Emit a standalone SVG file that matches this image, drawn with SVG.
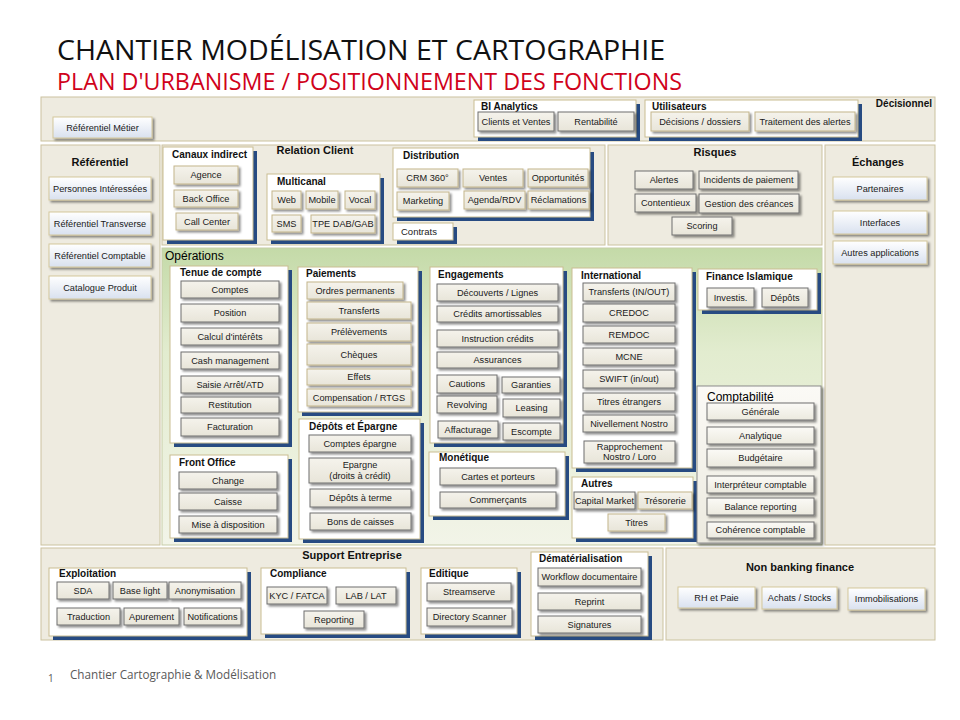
<svg xmlns="http://www.w3.org/2000/svg" width="960" height="720" viewBox="0 0 960 720">
<defs>
<linearGradient id="gb" x1="0" y1="0" x2="0" y2="1"><stop offset="0" stop-color="#F5F3EC"/><stop offset="1" stop-color="#E8E5D9"/></linearGradient>
<linearGradient id="gc" x1="0" y1="0" x2="0" y2="1"><stop offset="0" stop-color="#FBFAF6"/><stop offset="1" stop-color="#ECEADF"/></linearGradient>
<linearGradient id="gbl" x1="0" y1="0" x2="0" y2="1"><stop offset="0" stop-color="#FFFFFF"/><stop offset="1" stop-color="#D9E1EF"/></linearGradient>
<linearGradient id="gops" x1="0" y1="0" x2="0" y2="1"><stop offset="0" stop-color="#C4DAA8"/><stop offset="0.35" stop-color="#E2ECCF"/><stop offset="1" stop-color="#F2F4E8"/></linearGradient>
<filter id="sh" x="-10%" y="-20%" width="130%" height="160%"><feDropShadow dx="2" dy="2" stdDeviation="1" flood-color="#000" flood-opacity="0.45"/></filter>
</defs>
<style>
.band{fill:#EEEBE0;stroke:#CBC29F;stroke-width:1}
.ops{fill:url(#gops);stroke:#C7CDA8;stroke-width:1}
.pn{fill:#FFFFFF;stroke:#C9BD92;stroke-width:1}
.ps{fill:#274B82}
.cp{fill:url(#gc);stroke:#8C8C8C;stroke-width:1;filter:url(#sh)}
.bt{fill:url(#gb);stroke:#C3B58B;stroke-width:1;filter:url(#sh)}
.bg{fill:url(#gb);stroke:#6F6F6F;stroke-width:1;filter:url(#sh)}
.bc{fill:url(#gc);stroke:#6F6F6F;stroke-width:1;filter:url(#sh)}
.bb{fill:url(#gbl);stroke:#D3C79C;stroke-width:1;filter:url(#sh)}
.t{font-family:"Liberation Sans",Arial,sans-serif;font-size:9.2px;fill:#1A1A1A;text-anchor:middle}
.tl{font-family:"Liberation Sans",Arial,sans-serif;font-size:9.5px;fill:#1A1A1A}
.h{font-family:"Liberation Sans",Arial,sans-serif;font-size:10px;font-weight:bold;fill:#111}
.H{font-family:"Liberation Sans",Arial,sans-serif;font-size:11px;font-weight:bold;fill:#111;text-anchor:middle}
.big{font-family:"Liberation Sans",Arial,sans-serif;font-size:12px;fill:#000}
</style>
<rect x="0" y="0" width="960" height="720" fill="#FFFFFF"/>
<g id="title">
<text x="57" y="60" font-family="Open Sans, Liberation Sans, sans-serif" font-size="27" fill="#111" textLength="608" lengthAdjust="spacingAndGlyphs">CHANTIER MODÉLISATION ET CARTOGRAPHIE</text>
<text x="57" y="90" font-family="Open Sans, Liberation Sans, sans-serif" font-size="23" fill="#D0021B" textLength="625" lengthAdjust="spacingAndGlyphs">PLAN D'URBANISME / POSITIONNEMENT DES FONCTIONS</text>
</g>

<!-- Décisionnel -->
<g id="decisionnel"><rect class="band" x="41" y="97" width="894" height="44"/><text class="h" x="932" y="107" text-anchor="end" font-size="12">Décisionnel</text></g>
<g id="ref-metier"><rect class="bb" x="53" y="117" width="99" height="21"/><text class="t" x="102.5" y="130.5">Référentiel Métier</text></g>
<g id="bi-analytics"><rect class="ps" x="478" y="104" width="162" height="37"/><rect class="pn" x="474" y="100" width="162" height="37"/><text class="h" x="481" y="110">BI Analytics</text></g>
<g id="clients-ventes"><rect class="bg" x="478" y="112" width="76" height="19"/><text class="t" x="516" y="124.5">Clients et Ventes</text></g>
<g id="rentabilite"><rect class="bg" x="558" y="112" width="76" height="19"/><text class="t" x="596" y="124.5">Rentabilité</text></g>
<g id="utilisateurs"><rect class="ps" x="649" y="104" width="213" height="37"/><rect class="pn" x="645" y="100" width="213" height="37"/><text class="h" x="652" y="110">Utilisateurs</text></g>
<g id="decisions-dossiers"><rect class="bt" x="651" y="112" width="98" height="19"/><text class="t" x="700" y="124.5">Décisions / dossiers</text></g>
<g id="traitement-alertes"><rect class="bt" x="755" y="112" width="100" height="19"/><text class="t" x="805" y="124.5">Traitement des alertes</text></g>

<!-- Référentiel -->
<g id="referentiel"><rect class="band" x="41" y="145" width="119" height="400"/><text class="H" x="100" y="166">Référentiel</text></g>
<g id="personnes"><rect class="bb" x="49" y="177" width="102" height="23"/><text class="t" x="100" y="191.5">Personnes Intéressées</text></g>
<g id="ref-transverse"><rect class="bb" x="49" y="212" width="102" height="23"/><text class="t" x="100" y="226.5">Référentiel Transverse</text></g>
<g id="ref-comptable"><rect class="bb" x="49" y="244" width="102" height="23"/><text class="t" x="100" y="258.5">Référentiel Comptable</text></g>
<g id="catalogue"><rect class="bb" x="49" y="276" width="102" height="23"/><text class="t" x="100" y="290.5">Catalogue Produit</text></g>

<!-- Relation Client -->
<g id="relation-client"><rect class="band" x="162" y="145" width="443" height="100"/><text class="H" x="315" y="154">Relation Client</text></g>
<g id="canaux-indirect"><rect class="ps" x="167" y="151" width="90" height="93"/><rect class="pn" x="163" y="147" width="90" height="93"/><text class="h" x="172" y="158">Canaux indirect</text></g>
<g id="agence"><rect class="bt" x="174" y="166" width="64" height="18"/><text class="t" x="206" y="178">Agence</text></g>
<g id="back-office"><rect class="bt" x="174" y="190" width="64" height="17"/><text class="t" x="206" y="201.5">Back Office</text></g>
<g id="call-center"><rect class="bt" x="176" y="213" width="62" height="17"/><text class="t" x="207" y="224.5">Call Center</text></g>
<g id="multicanal"><rect class="ps" x="271" y="178" width="113" height="66"/><rect class="pn" x="267" y="174" width="113" height="66"/><text class="h" x="277" y="185">Multicanal</text></g>
<g id="web"><rect class="bt" x="272" y="191" width="29" height="18"/><text class="t" x="286.5" y="203">Web</text></g>
<g id="mobile"><rect class="bt" x="306" y="191" width="32" height="18"/><text class="t" x="322" y="203">Mobile</text></g>
<g id="vocal"><rect class="bt" x="345" y="191" width="30" height="18"/><text class="t" x="360" y="203">Vocal</text></g>
<g id="sms"><rect class="bt" x="272" y="215" width="29" height="17"/><text class="t" x="286.5" y="226.5">SMS</text></g>
<g id="tpe"><rect class="bt" x="311" y="215" width="64" height="18"/><text class="t" x="343" y="227">TPE  DAB/GAB</text></g>
<g id="distribution"><rect class="ps" x="397" y="152" width="197" height="69"/><rect class="pn" x="393" y="148" width="197" height="69"/><text class="h" x="403" y="159">Distribution</text></g>
<g id="crm"><rect class="bt" x="397" y="169" width="61" height="18"/><text class="t" x="427.5" y="181">CRM 360°</text></g>
<g id="ventes"><rect class="bt" x="463" y="169" width="60" height="18"/><text class="t" x="493" y="181">Ventes</text></g>
<g id="opportunites"><rect class="bt" x="528" y="169" width="60" height="18"/><text class="t" x="558" y="181">Opportunités</text></g>
<g id="marketing"><rect class="bt" x="397" y="192" width="52" height="18"/><text class="t" x="423" y="204">Marketing</text></g>
<g id="agenda"><rect class="bt" x="464" y="191" width="61" height="18"/><text class="t" x="494.5" y="203">Agenda/RDV</text></g>
<g id="reclamations"><rect class="bt" x="528" y="191" width="61" height="18"/><text class="t" x="558.5" y="203">Réclamations</text></g>
<g id="contrats"><rect class="ps" x="397" y="227" width="60" height="17"/><rect class="pn" x="393" y="223" width="60" height="17"/><text class="tl" x="401" y="235">Contrats</text></g>

<!-- Risques -->
<g id="risques"><rect class="band" x="608" y="145" width="214" height="100"/><text class="H" x="715" y="156">Risques</text></g>
<g id="alertes"><rect class="bg" x="635" y="171" width="58" height="18"/><text class="t" x="664" y="183">Alertes</text></g>
<g id="incidents"><rect class="bg" x="699" y="171" width="99" height="18"/><text class="t" x="748.5" y="183">Incidents de paiement</text></g>
<g id="contentieux"><rect class="bg" x="635" y="194" width="61" height="18"/><text class="t" x="665.5" y="206">Contentieux</text></g>
<g id="gestion-creances"><rect class="bg" x="699" y="194" width="100" height="19"/><text class="t" x="749" y="206.5">Gestion des créances</text></g>
<g id="scoring"><rect class="bg" x="672" y="217" width="60" height="18"/><text class="t" x="702" y="229">Scoring</text></g>

<!-- Échanges -->
<g id="echanges"><rect class="band" x="825" y="145" width="110" height="400"/><text class="H" x="878" y="166">Échanges</text></g>
<g id="partenaires"><rect class="bb" x="833" y="177" width="94" height="23"/><text class="t" x="880" y="191.5">Partenaires</text></g>
<g id="interfaces"><rect class="bb" x="833" y="211" width="94" height="23"/><text class="t" x="880" y="225.5">Interfaces</text></g>
<g id="autres-applications"><rect class="bb" x="833" y="241" width="94" height="23"/><text class="t" x="880" y="255.5">Autres applications</text></g>

<!-- Opérations -->
<g id="operations"><rect class="ops" x="162" y="248" width="660" height="297"/><text class="big" x="165" y="260">Opérations</text></g>
<g id="tenue-compte"><rect class="ps" x="174" y="270" width="118" height="177"/><rect class="pn" x="170" y="266" width="118" height="177"/><text class="h" x="180" y="275.5">Tenue de compte</text></g>
<g id="comptes"><rect class="bg" x="181" y="281" width="98" height="17"/><text class="t" x="230" y="292.5">Comptes</text></g>
<g id="position"><rect class="bg" x="181" y="304" width="98" height="18"/><text class="t" x="230" y="316">Position</text></g>
<g id="calcul-interets"><rect class="bg" x="181" y="328" width="98" height="17"/><text class="t" x="230" y="339.5">Calcul d'intérêts</text></g>
<g id="cash-management"><rect class="bg" x="181" y="352" width="98" height="17"/><text class="t" x="230" y="363.5">Cash management</text></g>
<g id="saisie-arret"><rect class="bg" x="181" y="376" width="98" height="17"/><text class="t" x="230" y="387.5">Saisie Arrêt/ATD</text></g>
<g id="restitution"><rect class="bg" x="181" y="397" width="98" height="16"/><text class="t" x="230" y="408">Restitution</text></g>
<g id="facturation"><rect class="bg" x="181" y="418" width="98" height="18"/><text class="t" x="230" y="430">Facturation</text></g>

<g id="front-office"><rect class="ps" x="174" y="459" width="118" height="83"/><rect class="pn" x="170" y="455" width="118" height="83"/><text class="h" x="179" y="466">Front Office</text></g>
<g id="change"><rect class="bg" x="179" y="472" width="98" height="17"/><text class="t" x="228" y="483.5">Change</text></g>
<g id="caisse"><rect class="bg" x="179" y="493" width="98" height="17"/><text class="t" x="228" y="504.5">Caisse</text></g>
<g id="mise-disposition"><rect class="bg" x="179" y="516" width="98" height="17"/><text class="t" x="228" y="527.5">Mise à disposition</text></g>

<g id="paiements"><rect class="ps" x="302" y="271" width="120" height="145"/><rect class="pn" x="298" y="267" width="120" height="145"/><text class="h" x="306" y="277">Paiements</text></g>
<g id="ordres-permanents"><rect class="bt" x="307" y="282" width="96" height="17"/><text class="t" x="355" y="293.5">Ordres permanents</text></g>
<g id="transferts"><rect class="bt" x="307" y="302" width="104" height="17"/><text class="t" x="359" y="313.5">Transferts</text></g>
<g id="prelevements"><rect class="bt" x="307" y="323" width="104" height="18"/><text class="t" x="359" y="335">Prélèvements</text></g>
<g id="cheques"><rect class="bt" x="307" y="344" width="104" height="21"/><text class="t" x="359" y="357.5">Chèques</text></g>
<g id="effets"><rect class="bt" x="307" y="369" width="104" height="16"/><text class="t" x="359" y="380">Effets</text></g>
<g id="compensation"><rect class="bt" x="307" y="389" width="104" height="17"/><text class="t" x="359" y="400.5">Compensation / RTGS</text></g>

<g id="depots-epargne"><rect class="ps" x="303" y="423" width="121" height="120"/><rect class="pn" x="299" y="419" width="121" height="120"/><text class="h" x="309" y="430">Dépôts et Épargne</text></g>
<g id="comptes-epargne"><rect class="bg" x="309" y="435" width="102" height="17"/><text class="t" x="360" y="446.5">Comptes épargne</text></g>
<g id="epargne-droits"><rect class="bg" x="309" y="458" width="102" height="25"/><text class="t" x="360" y="468">Epargne</text><text class="t" x="360" y="479">(droits à crédit)</text></g>
<g id="depots-terme"><rect class="bg" x="310" y="489" width="101" height="18"/><text class="t" x="360.5" y="501">Dépôts à terme</text></g>
<g id="bons-caisses"><rect class="bg" x="310" y="513" width="101" height="17"/><text class="t" x="360.5" y="524.5">Bons de caisses</text></g>

<g id="engagements"><rect class="ps" x="434" y="271" width="133" height="176"/><rect class="pn" x="430" y="267" width="133" height="176"/><text class="h" x="438" y="278">Engagements</text></g>
<g id="decouverts"><rect class="bg" x="437" y="284" width="121" height="17"/><text class="t" x="497.5" y="295.5">Découverts / Lignes</text></g>
<g id="credits-amortissables"><rect class="bg" x="437" y="306" width="121" height="16"/><text class="t" x="497.5" y="317">Crédits amortissables</text></g>
<g id="instruction-credits"><rect class="bg" x="437" y="330" width="121" height="17"/><text class="t" x="497.5" y="341.5">Instruction crédits</text></g>
<g id="assurances"><rect class="bg" x="437" y="352" width="121" height="16"/><text class="t" x="497.5" y="363">Assurances</text></g>
<g id="cautions"><rect class="bg" x="437" y="375" width="60" height="18"/><text class="t" x="467" y="387">Cautions</text></g>
<g id="garanties"><rect class="bg" x="502" y="377" width="58" height="16"/><text class="t" x="531" y="388">Garanties</text></g>
<g id="revolving"><rect class="bg" x="437" y="396" width="60" height="17"/><text class="t" x="467" y="407.5">Revolving</text></g>
<g id="leasing"><rect class="bg" x="503" y="399" width="57" height="18"/><text class="t" x="531.5" y="411">Leasing</text></g>
<g id="affacturage"><rect class="bg" x="438" y="421" width="60" height="17"/><text class="t" x="468" y="432.5">Affacturage</text></g>
<g id="escompte"><rect class="bg" x="503" y="423" width="57" height="17"/><text class="t" x="531.5" y="434.5">Escompte</text></g>

<g id="monetique"><rect class="ps" x="433" y="456" width="136" height="64"/><rect class="pn" x="429" y="452" width="136" height="64"/><text class="h" x="439" y="461">Monétique</text></g>
<g id="cartes-porteurs"><rect class="bg" x="440" y="468" width="116" height="17"/><text class="t" x="498" y="479.5">Cartes et porteurs</text></g>
<g id="commercants"><rect class="bg" x="440" y="492" width="116" height="16"/><text class="t" x="498" y="503">Commerçants</text></g>

<g id="international"><rect class="ps" x="576" y="272" width="120" height="200"/><rect class="pn" x="572" y="268" width="120" height="200"/><text class="h" x="581" y="279">International</text></g>
<g id="transferts-inout"><rect class="bg" x="583" y="283" width="92" height="18"/><text class="t" x="629" y="295">Transferts (IN/OUT)</text></g>
<g id="credoc"><rect class="bg" x="583" y="304" width="92" height="18"/><text class="t" x="629" y="316">CREDOC</text></g>
<g id="remdoc"><rect class="bg" x="583" y="326" width="92" height="17"/><text class="t" x="629" y="337.5">REMDOC</text></g>
<g id="mcne"><rect class="bg" x="583" y="348" width="92" height="17"/><text class="t" x="629" y="359.5">MCNE</text></g>
<g id="swift"><rect class="bg" x="583" y="370" width="92" height="18"/><text class="t" x="629" y="382">SWIFT (in/out)</text></g>
<g id="titres-etrangers"><rect class="bg" x="583" y="393" width="92" height="18"/><text class="t" x="629" y="405">Titres étrangers</text></g>
<g id="nivellement"><rect class="bg" x="583" y="415" width="92" height="17"/><text class="t" x="629" y="426.5">Nivellement Nostro</text></g>
<g id="rapprochement"><rect class="bg" x="584" y="441" width="91" height="22"/><text class="t" x="629.5" y="450">Rapprochement</text><text class="t" x="629.5" y="460">Nostro / Loro</text></g>

<g id="autres"><rect class="ps" x="576" y="481" width="121" height="61"/><rect class="pn" x="572" y="477" width="121" height="61"/><text class="h" x="581" y="487">Autres</text></g>
<g id="capital-market"><rect class="bg" x="574" y="492" width="61" height="17"/><text class="t" x="604.5" y="503.5">Capital Market</text></g>
<g id="tresorerie"><rect class="bt" x="638" y="492" width="54" height="17"/><text class="t" x="665" y="503.5">Trésorerie</text></g>
<g id="titres"><rect class="bt" x="608" y="514" width="57" height="17"/><text class="t" x="636.5" y="525.5">Titres</text></g>

<g id="finance-islamique"><rect class="ps" x="702" y="273" width="119" height="41"/><rect class="pn" x="698" y="269" width="119" height="41"/><text class="h" x="706" y="280">Finance Islamique</text></g>
<g id="investis"><rect class="bg" x="707" y="288" width="47" height="19"/><text class="t" x="730.5" y="300.5">Investis.</text></g>
<g id="depots-fi"><rect class="bg" x="762" y="288" width="46" height="19"/><text class="t" x="785" y="300.5">Dépôts</text></g>

<g id="comptabilite"><rect class="cp" x="697" y="386" width="124" height="157"/><text class="big" x="707" y="401">Comptabilité</text></g>
<g id="generale"><rect class="bc" x="707" y="403" width="107" height="17"/><text class="t" x="760.5" y="414.5">Générale</text></g>
<g id="analytique"><rect class="bc" x="707" y="427" width="107" height="17"/><text class="t" x="760.5" y="438.5">Analytique</text></g>
<g id="budgetaire"><rect class="bc" x="707" y="449" width="107" height="18"/><text class="t" x="760.5" y="461">Budgétaire</text></g>
<g id="interpreteur"><rect class="bc" x="707" y="476" width="107" height="17"/><text class="t" x="760.5" y="487.5">Interpréteur comptable</text></g>
<g id="balance-reporting"><rect class="bc" x="707" y="498" width="107" height="17"/><text class="t" x="760.5" y="509.5">Balance reporting</text></g>
<g id="coherence"><rect class="bc" x="707" y="522" width="107" height="16"/><text class="t" x="760.5" y="533">Cohérence comptable</text></g>

<!-- Support Entreprise -->
<g id="support-entreprise"><rect class="band" x="41" y="548" width="622" height="92"/><text class="H" x="352" y="559">Support Entreprise</text></g>
<g id="exploitation"><rect class="ps" x="53" y="572" width="198" height="68"/><rect class="pn" x="49" y="568" width="198" height="68"/><text class="h" x="59" y="577">Exploitation</text></g>
<g id="sda"><rect class="bg" x="57" y="582" width="52" height="17"/><text class="t" x="83" y="593.5">SDA</text></g>
<g id="base-light"><rect class="bg" x="113" y="582" width="54" height="17"/><text class="t" x="140" y="593.5">Base light</text></g>
<g id="anonymisation"><rect class="bg" x="169" y="582" width="72" height="17"/><text class="t" x="205" y="593.5">Anonymisation</text></g>
<g id="traduction"><rect class="bg" x="57" y="608" width="63" height="17"/><text class="t" x="88.5" y="619.5">Traduction</text></g>
<g id="apurement"><rect class="bg" x="124" y="608" width="55" height="17"/><text class="t" x="151.5" y="619.5">Apurement</text></g>
<g id="notifications"><rect class="bg" x="184" y="608" width="57" height="17"/><text class="t" x="212.5" y="619.5">Notifications</text></g>

<g id="compliance"><rect class="ps" x="265" y="572" width="145" height="66"/><rect class="pn" x="261" y="568" width="145" height="66"/><text class="h" x="270" y="577">Compliance</text></g>
<g id="kyc"><rect class="bg" x="267" y="587" width="60" height="17"/><text class="t" x="297" y="598.5">KYC / FATCA</text></g>
<g id="lab"><rect class="bg" x="336" y="587" width="60" height="17"/><text class="t" x="366" y="598.5">LAB / LAT</text></g>
<g id="reporting"><rect class="bg" x="304" y="611" width="60" height="17"/><text class="t" x="334" y="622.5">Reporting</text></g>

<g id="editique"><rect class="ps" x="425" y="572" width="96" height="66"/><rect class="pn" x="421" y="568" width="96" height="66"/><text class="h" x="429" y="577">Editique</text></g>
<g id="streamserve"><rect class="bg" x="427" y="583" width="84" height="18"/><text class="t" x="469" y="595">Streamserve</text></g>
<g id="directory-scanner"><rect class="bg" x="427" y="608" width="85" height="18"/><text class="t" x="469.5" y="620">Directory Scanner</text></g>

<g id="dematerialisation"><rect class="ps" x="535" y="556" width="117" height="84"/><rect class="pn" x="531" y="552" width="117" height="84"/><text class="h" x="539" y="562">Dématérialisation</text></g>
<g id="workflow"><rect class="bg" x="538" y="568" width="103" height="18"/><text class="t" x="589.5" y="580">Workflow documentaire</text></g>
<g id="reprint"><rect class="bg" x="538" y="593" width="103" height="17"/><text class="t" x="589.5" y="604.5">Reprint</text></g>
<g id="signatures"><rect class="bg" x="538" y="616" width="103" height="17"/><text class="t" x="589.5" y="627.5">Signatures</text></g>

<!-- Non banking finance -->
<g id="non-banking"><rect class="band" x="666" y="548" width="269" height="92"/><text class="H" x="800" y="571">Non banking finance</text></g>
<g id="rh-paie"><rect class="bb" x="678" y="587" width="77" height="21"/><text class="t" x="716.5" y="600.5">RH et Paie</text></g>
<g id="achats-stocks"><rect class="bb" x="762" y="587" width="75" height="22"/><text class="t" x="799.5" y="601">Achats / Stocks</text></g>
<g id="immobilisations"><rect class="bb" x="848" y="588" width="77" height="22"/><text class="t" x="886.5" y="602">Immobilisations</text></g>

<g id="connectors"></g>

<g id="footer">
<text x="48" y="682" font-family="Open Sans, Liberation Sans, sans-serif" font-size="10" fill="#595959">1</text>
<text x="70" y="679" font-family="Open Sans, Liberation Sans, sans-serif" font-size="11.7" fill="#595959">Chantier Cartographie &amp; Modélisation</text>
</g>
</svg>
